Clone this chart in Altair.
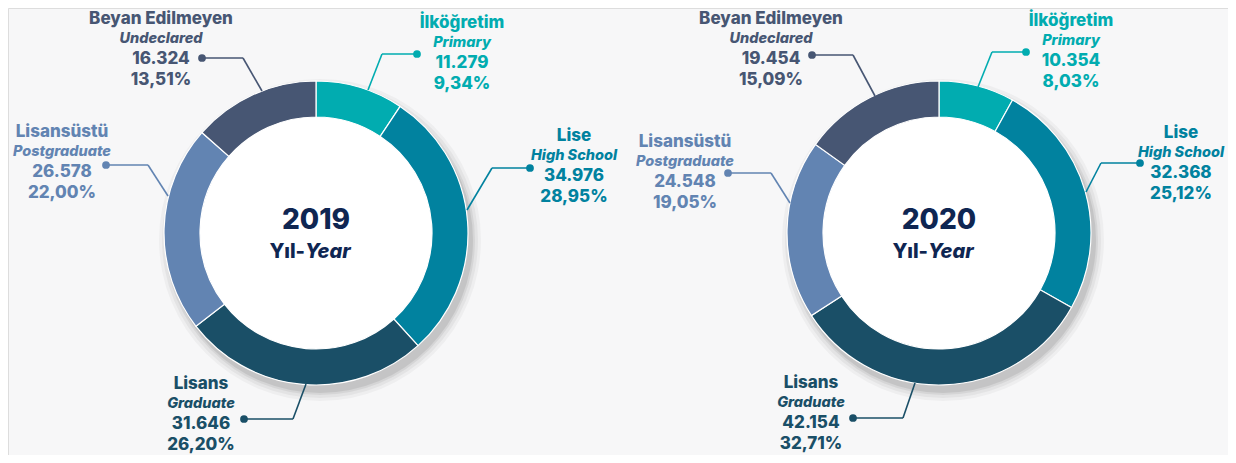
import altair as alt
import pandas as pd

# ---------------- data ----------------
years = [2019, 2020]
cats_tr = ["İlköğretim", "Lise", "Lisans", "Lisansüstü", "Beyan Edilmeyen"]
cats_en = ["Primary", "High School", "Graduate", "Postgraduate", "Undeclared"]
values_2019 = [11279, 34976, 31646, 26578, 16324]
values_2020 = [10354, 32368, 42154, 24548, 19454]
year_sub_tr = "Yıl-"
year_sub_en = "Year"

# ---------------- styles / layout ----------------
colors = ["#01ACB0", "#01829F", "#1A4F67", "#6284B2", "#475673"]
navy = "#0F2652"
FONT = "Inter"
WEIGHT = 800
OFF = 8  # page margin
centers = {2019: (316, 233), 2020: (939, 233)}
R_OUT, R_IN = 152, 116

# label layout (image pixels): arc point, elbow, dot, text centre x, value-line y
lay = {
    2019: [((368, 90), (382, 54), (417, 54), 462, 63),
           ((467, 210), (492, 168), (530, 168), 574, 176),
           ((306, 384), (293, 419), (244, 419), 201, 424),
           ((168, 196), (148, 165), (106, 165), 62, 172),
           ((262, 91), (243, 58), (202, 58), 161, 59)],
    2020: [((978, 87), (992, 52), (1026, 52), 1071, 61),
           ((1086, 192), (1101, 163), (1140, 163), 1181, 173),
           ((915, 383), (903, 418), (853, 418), 811, 423),
           ((790, 203), (771, 173), (728, 173), 685, 182),
           ((875, 96), (853, 55), (812, 55), 771, 59)],
}

rows = []
for y, vals in zip(years, [values_2019, values_2020]):
    for i, (tr, en, v) in enumerate(zip(cats_tr, cats_en, vals)):
        a, e, d, tx, vy = lay[y][i]
        rows.append(dict(year=y, idx=i, cat=en, tr=tr, en=en, value=v,
                         ax=a[0] - OFF, ay=a[1] - OFF, ex=e[0] - OFF, ey=e[1] - OFF,
                         dx=d[0] - OFF, dy=d[1] - OFF, tx=tx - OFF, vy=vy - OFF))
df = pd.DataFrame(rows)

color = alt.Color("cat:N", scale=alt.Scale(domain=cats_en, range=colors), legend=None)

layers = []
for y in years:
    cx, cy = centers[y]
    cx -= OFF
    cy -= OFF
    # soft drop shadow
    for dr, op in [(9, 0.035), (6, 0.045), (3, 0.06), (1, 0.08)]:
        layers.append(
            alt.Chart(pd.DataFrame({"k": [0]})).mark_arc(
                color="#000000", opacity=op, outerRadius=R_OUT + dr, innerRadius=R_IN - 2
            ).encode(x=alt.value(cx + 4), y=alt.value(cy + 7),
                     theta=alt.value(0), theta2=alt.value(6.2832))
        )
    # inner white disc
    layers.append(
        alt.Chart(pd.DataFrame({"k": [0]})).mark_arc(
            color="#FFFFFF", outerRadius=R_IN + 2, innerRadius=0
        ).encode(x=alt.value(cx), y=alt.value(cy),
                 theta=alt.value(0), theta2=alt.value(6.2832))
    )
    # ring
    layers.append(
        alt.Chart(df).transform_filter(alt.datum.year == y).mark_arc(
            outerRadius=R_OUT, innerRadius=R_IN, stroke="#FFFFFF", strokeWidth=1.2
        ).encode(
            x=alt.value(cx), y=alt.value(cy),
            theta=alt.Theta("value:Q", stack="normalize"),
            order=alt.Order("idx:Q"),
            color=color,
        )
    )
    # centre text
    layers.append(
        alt.Chart(pd.DataFrame({"t": [str(y)]})).mark_text(
            font=FONT, fontSize=28, fontWeight=WEIGHT, color=navy,
            align="center", baseline="middle"
        ).encode(x=alt.value(cx), y=alt.value(cy - 12), text="t:N")
    )
    layers.append(
        alt.Chart(pd.DataFrame({"t": [year_sub_tr]})).mark_text(
            font=FONT, fontSize=20, fontWeight=WEIGHT, color=navy,
            align="right", baseline="middle"
        ).encode(x=alt.value(cx - 11), y=alt.value(cy + 19), text="t:N")
    )
    layers.append(
        alt.Chart(pd.DataFrame({"t": [year_sub_en]})).mark_text(
            font=FONT, fontSize=20, fontWeight=WEIGHT, fontStyle="italic", color=navy,
            align="left", baseline="middle"
        ).encode(x=alt.value(cx - 11), y=alt.value(cy + 19), text="t:N")
    )

base = alt.Chart(df).transform_joinaggregate(
    total="sum(value)", groupby=["year"]
).transform_calculate(pct="datum.value / datum.total")

X = lambda f: alt.X(f, scale=None, axis=None)
Y = lambda f: alt.Y(f, scale=None, axis=None)

leader1 = base.mark_rule(strokeWidth=1.6).encode(
    x=X("ax:Q"), y=Y("ay:Q"), x2="ex:Q", y2="ey:Q", color=color)
leader2 = base.mark_rule(strokeWidth=1.6).encode(
    x=X("ex:Q"), y=Y("ey:Q"), x2="dx:Q", y2="dy:Q", color=color)
dots = base.mark_circle(size=60, opacity=1).encode(
    x=X("dx:Q"), y=Y("dy:Q"), color=color)

def txt(field, size, dy, style="normal", fmt=None):
    t = alt.Text(field, format=fmt) if fmt else alt.Text(field)
    return base.mark_text(
        font=FONT, fontSize=size, fontWeight=WEIGHT, fontStyle=style,
        align="center", baseline="middle", dy=dy
    ).encode(x=X("tx:Q"), y=Y("vy:Q"), text=t, color=color)

labels = [
    txt("tr:N", 17, -40),
    txt("en:N", 14.5, -20, style="italic"),
    txt("value:Q", 17, 0, fmt=",.0f"),
    txt("pct:Q", 17, 21, fmt=".2%"),
]

chart = alt.layer(*layers, leader1, leader2, dots, *labels).properties(
    width=1220, height=447, padding=0,
    autosize=alt.AutoSizeParams(type="none"),
    background="#F7F7F8",
).configure_view(strokeWidth=0).configure(
    locale={"number": {"decimal": ",", "thousands": ".", "grouping": [3],
                       "currency": ["", " TL"]}}
)

chart.save("out.html", embed_options={"renderer": "svg", "actions": False})
